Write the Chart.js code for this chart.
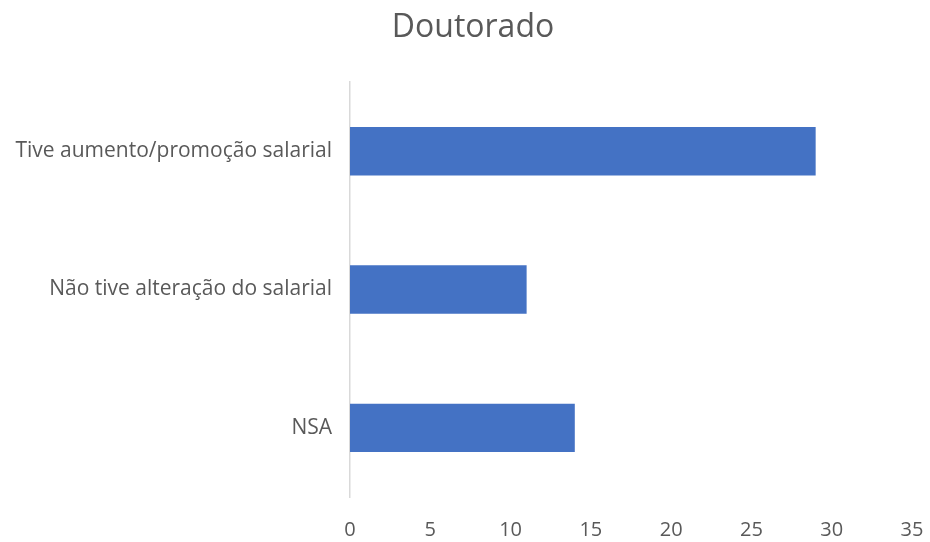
<!DOCTYPE html>
<html>
<head>
<meta charset="utf-8">
<script src="https://cdn.jsdelivr.net/npm/chart.js@4"></script>
<style>
html,body{margin:0;padding:0;background:#fff;}
#wrap{width:930px;height:542px;}
</style>
</head>
<body>
<div id="wrap"><canvas id="c" width="930" height="542"></canvas></div>
<script>
const categories = ["Tive aumento/promoção salarial", "Não tive alteração do salarial", "NSA"];
const values = [29, 11, 14];
const xTicks = [0, 5, 10, 15, 20, 25, 30, 35];
const chartTitle = "Doutorado";

const FONT = "'Open Sans', 'Liberation Sans', sans-serif";
const shiftTitle = {
  id: 'shiftTitle',
  afterLayout(chart) {
    if (chart.titleBlock) { chart.titleBlock.left += 34; chart.titleBlock.right += 0; }
  }
};
new Chart(document.getElementById('c'), {
  type: 'bar',
  data: {
    labels: categories,
    datasets: [{
      data: values,
      backgroundColor: '#4472C4',
      borderWidth: 0,
      categoryPercentage: 1,
      barPercentage: 0.35
    }]
  },
  plugins: [shiftTitle],
  options: {
    indexAxis: 'y',
    responsive: false,
    animation: false,
    layout: { padding: { left: 0, right: 18, top: 0, bottom: 0 } },
    plugins: {
      legend: { display: false },
      tooltip: { enabled: false },
      title: {
        display: true,
        text: chartTitle,
        color: '#595959',
        font: { family: FONT, size: 32, weight: 'normal', lineHeight: 1.2 },
        padding: { top: 9, bottom: 34.6 }
      }
    },
    scales: {
      x: {
        min: 0, max: 35,
        afterBuildTicks: (s) => { s.ticks = xTicks.map(v => ({ value: v })); },
        afterFit: (s) => { s.height = 45; s.paddingLeft = 0; s.paddingRight = 0; },
        grid: { display: false, drawTicks: false },
        border: { display: false },
        ticks: { color: '#595959', font: { family: FONT, size: 20 }, padding: 21 }
      },
      y: {
        afterFit: (s) => { s.width = 350; s.paddingTop = 0; s.paddingBottom = 0; },
        grid: { display: false, drawTicks: false },
        border: { display: true, color: '#d9d9d9', width: 1.5 },
        ticks: { color: '#595959', font: { family: FONT, size: 21 }, padding: 18 }
      }
    }
  }
});
</script>
</body>
</html>
